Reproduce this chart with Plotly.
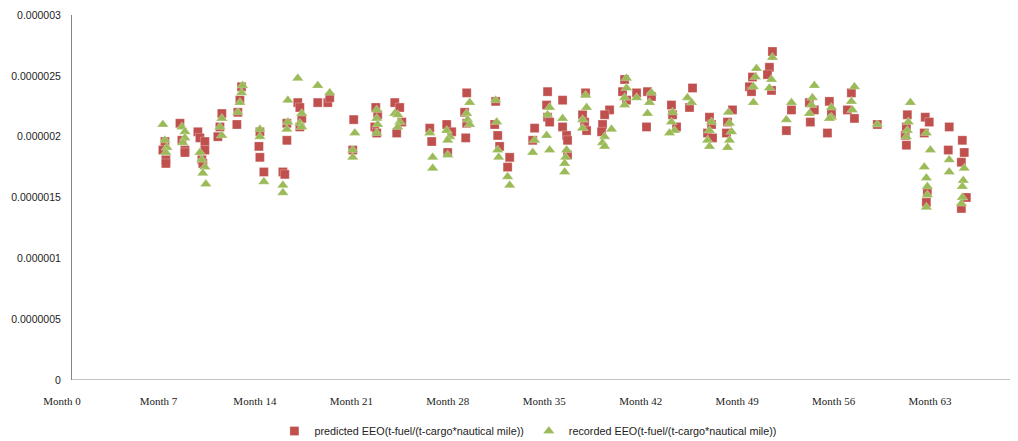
import plotly.graph_objects as go

# ---- data (values in units of 1e-6 t-fuel/(t-cargo*nautical mile)) ----
pred_month = [
    7.47, 7.32, 7.54, 7.54,
    8.56, 8.70, 8.92, 8.92,
    9.86, 10.01, 10.37, 10.37, 10.15, 10.22,
    11.60, 11.46, 11.31,
    13.03, 12.91, 12.76, 12.69,
    14.36, 14.29, 14.36, 14.65,
    16.03, 16.17,
    16.32, 16.32, 17.11, 17.26, 17.40, 17.26,
    18.56, 19.29, 19.43,
    21.17, 21.10,
    22.77, 22.91, 22.70, 22.84,
    24.15, 24.51, 24.66, 24.29,
    26.69, 26.83,
    27.92, 28.28, 27.99,
    29.37, 29.22, 29.37, 29.30,
    31.47, 31.40, 31.62, 31.76, 32.49, 32.34,
    34.30, 34.16,
    35.24, 35.17, 35.24, 35.39,
    36.33, 36.33, 36.62, 36.69, 36.69,
    38.00, 37.78, 37.93, 38.07,
    39.74, 39.38, 39.23, 39.16,
    40.83, 40.68, 40.97,
    41.70,
    42.49, 42.78, 42.42,
    44.23, 44.31, 44.60,
    45.76, 45.54,
    46.99, 47.14, 46.85, 47.21,
    48.66, 48.30, 48.22,
    50.11, 49.89, 50.04,
    51.56, 51.34, 51.20, 51.49,
    52.94, 52.57,
    54.24, 54.60, 54.31,
    55.69, 55.84, 55.55,
    57.29, 57.00, 57.51,
    59.17,
    61.35, 61.28, 61.20, 61.28,
    62.65, 62.94, 62.58, 62.80, 62.73,
    64.39, 64.32,
    65.34, 65.48, 65.27, 65.63, 65.27,
]
pred_eeo = [
    1.96, 1.89, 1.81, 1.78,
    2.11, 1.97, 1.89, 1.87,
    2.04, 1.99, 1.96, 1.89, 1.81, 1.78,
    2.19, 2.08, 2.00,
    2.41, 2.30, 2.20, 2.10,
    2.04, 1.92, 1.83, 1.71,
    1.71, 1.69,
    2.11, 1.97, 2.28, 2.24, 2.15, 2.08,
    2.28, 2.28, 2.32,
    2.14, 1.89,
    2.24, 2.18, 2.08, 2.03,
    2.28, 2.24, 2.12, 2.03,
    2.07, 1.96,
    2.10, 2.04, 1.87,
    2.36, 2.20, 2.11, 1.99,
    2.29, 2.10, 2.01, 1.92, 1.83, 1.75,
    2.07, 1.97,
    2.37, 2.26, 2.16, 2.12,
    2.30, 2.08, 2.01, 1.97, 1.85,
    2.36, 2.18, 2.12, 2.05,
    2.22, 2.18, 2.10, 2.04,
    2.47, 2.37, 2.30,
    2.36,
    2.37, 2.33, 2.08,
    2.26, 2.18, 2.08,
    2.40, 2.24,
    2.16, 2.10, 2.03, 1.99,
    2.22, 2.12, 2.03,
    2.49, 2.41, 2.37,
    2.70, 2.57, 2.51, 2.38,
    2.22, 2.05,
    2.28, 2.22, 2.12,
    2.29, 2.19, 2.03,
    2.36, 2.22, 2.15,
    2.10,
    2.18, 2.08, 2.01, 1.93,
    2.16, 2.12, 2.03, 1.54, 1.46,
    2.08, 1.89,
    1.97, 1.87, 1.79, 1.50, 1.41,
]

rec_month = [
    7.32, 7.47, 7.61, 7.54,
    8.70, 8.92, 8.92, 8.77,
    10.01, 10.15, 10.37, 10.22, 10.44,
    11.60, 11.46, 11.60,
    13.10, 13.03, 12.91, 12.76,
    14.36, 14.36, 14.65,
    16.03, 16.03,
    16.39, 16.39, 16.32, 17.11, 17.40, 17.26, 17.40,
    18.56, 19.43,
    21.25, 21.10, 21.10,
    22.84, 22.84, 22.91, 22.84,
    24.15, 24.37, 24.51, 24.37,
    26.69, 26.90, 26.90,
    27.92, 28.14, 27.99, 27.99,
    29.59, 29.37, 29.44, 29.59,
    31.47, 31.55, 31.62, 31.69, 32.34, 32.49,
    34.30, 34.16,
    35.39, 35.24, 35.17, 35.39,
    36.33, 36.62, 36.55, 36.48, 36.48,
    38.00, 38.07, 37.78, 37.78,
    39.88, 39.38, 39.23, 39.38,
    40.97, 40.97, 40.83, 40.83,
    41.70,
    42.78, 42.64, 42.49,
    44.31, 44.23, 44.45, 44.09,
    45.39, 45.69,
    47.14, 46.99, 46.85, 46.99,
    48.37, 48.44, 48.59, 48.44, 48.30,
    50.40, 50.33, 50.18, 50.18,
    51.56, 51.49, 51.34,
    52.94, 52.57,
    54.60, 54.46, 54.39, 54.24,
    55.84, 55.84, 55.69,
    57.51, 57.29, 57.36,
    59.17,
    61.57, 61.42, 61.35, 61.28,
    62.73, 63.02, 62.58, 62.73, 62.80, 62.80, 62.73,
    64.39, 64.39,
    65.48, 65.41, 65.34, 65.34, 65.27,
]
rec_eeo = [
    2.10, 1.97, 1.91, 1.87,
    2.08, 2.04, 1.99, 1.95,
    1.87, 1.81, 1.75, 1.70, 1.61,
    2.15, 2.08, 2.01,
    2.42, 2.36, 2.28, 2.20,
    2.06, 2.00, 1.63,
    1.60, 1.54,
    2.30, 2.12, 2.06, 2.48, 2.19, 2.11, 2.08,
    2.42, 2.36,
    2.03, 1.89, 1.83,
    2.22, 2.15, 2.10, 2.03,
    2.19, 2.18, 2.12, 2.08,
    2.03, 1.83, 1.74,
    2.05, 2.00, 1.97, 1.85,
    2.28, 2.19, 2.14, 2.10,
    2.30, 2.12, 1.89, 1.83, 1.67, 1.60,
    1.97, 1.87,
    2.24, 2.18, 2.01, 1.89,
    2.15, 1.89, 1.83, 1.78, 1.71,
    2.34, 2.24, 2.14, 2.07,
    2.06, 2.00, 1.95, 1.92,
    2.48, 2.40, 2.32, 2.26,
    2.32,
    2.36, 2.28, 2.19,
    2.20, 2.12, 2.05, 2.03,
    2.32, 2.28,
    2.12, 2.05, 1.97, 1.92,
    2.20, 2.11, 2.04, 1.97, 1.91,
    2.56, 2.49, 2.41, 2.28,
    2.65, 2.47, 2.40,
    2.28, 2.14,
    2.42, 2.32, 2.26, 2.19,
    2.24, 2.16, 2.15,
    2.41, 2.29, 2.22,
    2.10,
    2.28, 2.12, 2.05, 2.00,
    2.03, 1.89, 1.75, 1.66, 1.59, 1.52, 1.42,
    1.81, 1.71,
    1.74, 1.64, 1.59, 1.50, 1.45,
]

tick_months = [0, 7, 14, 21, 28, 35, 42, 49, 56, 63]
tick_labels = ["Month %d" % m for m in tick_months]
y_ticks = [0, 0.0000005, 0.000001, 0.0000015, 0.000002, 0.0000025, 0.000003]
y_tick_labels = ["0", "0.0000005", "0.000001", "0.0000015", "0.000002", "0.0000025", "0.000003"]

SCALE = 1e-6

fig = go.Figure()
fig.add_trace(go.Scatter(
    x=pred_month, y=[v * SCALE for v in pred_eeo], mode="markers",
    name="predicted EEO(t-fuel/(t-cargo*nautical mile))",
    marker=dict(symbol="square", size=9, color="#C0504D",
                line=dict(width=0.6, color="rgba(255,255,255,0.45)")),
))
fig.add_trace(go.Scatter(
    x=rec_month, y=[v * SCALE for v in rec_eeo], mode="markers",
    name="recorded EEO(t-fuel/(t-cargo*nautical mile))",
    marker=dict(symbol="triangle-up", size=10, color="#9BBB59",
                line=dict(width=0.6, color="rgba(255,255,255,0.45)")),
))

# the page body adds an 8px offset, so the figure is 8px smaller on each axis
W, H = 1010, 433
L, R, T, B = 54, 8, 7, 61
ypos = 9 / (W - L - R)

fig.update_layout(
    width=W, height=H, autosize=False,
    margin=dict(l=L, r=R, t=T, b=B, pad=0, autoexpand=False),
    paper_bgcolor="white", plot_bgcolor="white",
    font=dict(family="Liberation Sans, Arial, sans-serif", size=11, color="#222222"),
    showlegend=True,
    legend=dict(orientation="h", x=0.492, xanchor="center", y=-0.14, yanchor="middle",
                font=dict(family="Liberation Sans, Arial, sans-serif", size=10.8, color="#222222"),
                itemwidth=30, tracegroupgap=0),
    xaxis=dict(range=[0, 68.8], tickmode="array", tickvals=tick_months, ticktext=tick_labels,
               showgrid=False, zeroline=False, showline=False, ticks="", automargin=False,
               tickfont=dict(family="Liberation Serif, DejaVu Serif, serif", size=11, color="#222222"),
               ticklabelstandoff=13),
    yaxis=dict(range=[0, 0.000003], tickmode="array", tickvals=y_ticks, ticktext=y_tick_labels,
               showgrid=False, zeroline=False, showline=True, linecolor="#868686", linewidth=1,
               ticks="", anchor="free", position=ypos, ticklabelstandoff=8, automargin=False,
               tickfont=dict(family="Liberation Sans, Arial, sans-serif", size=10.5, color="#222222")),
    shapes=[dict(type="line", xref="paper", yref="y", x0=ypos, x1=1, y0=0, y1=0,
                 line=dict(color="#868686", width=1))],
)

fig.write_html("out.html")
